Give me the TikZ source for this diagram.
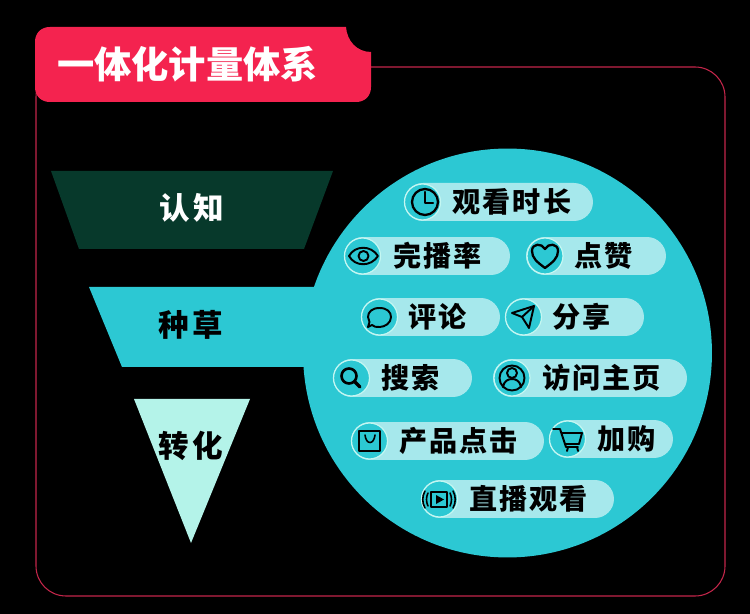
\documentclass[tikz,border=0pt]{standalone}
\usepackage{fontspec}
\usepackage{xcolor}
\newfontfamily\titlefont{Noto Sans CJK SC}
\newfontfamily\stagefont[LetterSpace=10]{Noto Sans CJK SC}
\newfontfamily\pillfont[LetterSpace=7]{Noto Sans CJK SC}
\definecolor{tabred}{HTML}{F4234F}
\definecolor{framered}{HTML}{C4264A}
\definecolor{darkgreen}{HTML}{07392B}
\definecolor{teal}{HTML}{2CC8D3}
\definecolor{mint}{HTML}{B4F3E9}
\definecolor{palepill}{HTML}{A6E8EC}
\definecolor{paleline}{HTML}{C4F7F2}
\tikzset{
  pillbox/.style={fill=palepill, minimum height=0.76cm, rounded corners=0.38cm, inner sep=0pt},
  iconbox/.style={circle, fill=teal, draw=paleline, line width=0.7pt, minimum size=0.72cm, inner sep=0pt},
  pilltext/.style={font=\pillfont\bfseries\fontsize{16}{18}\selectfont, text=black, inner sep=0pt},
  stagetext/.style={font=\stagefont\bfseries\fontsize{17.4}{20}\selectfont, text=black, inner sep=0pt},
  iconline/.style={draw=black, line width=1.1pt, line join=round, line cap=round}
}
\begin{document}
\begin{tikzpicture}[x=0.02cm,y=-0.02cm]
  \useasboundingbox (0,0) rectangle (750,614);
  \fill[black] (0,0) rectangle (750,614);

  \draw[framered, line width=0.6pt, rounded corners=0.6cm] (36,67) rectangle (725,596);
  \fill[tabred] (50,27) -- (346,27) .. controls (347,41) and (357,52) .. (371,52) -- (371,87) .. controls (371,96) and (365,102) .. (356,102) -- (50,102) .. controls (41,102) and (35,96) .. (35,87) -- (35,42) .. controls (35,33) and (41,27) .. (50,27) -- cycle;
  \node[font=\titlefont\bfseries\fontsize{21.2}{24}\selectfont, text=white, inner sep=0pt] (titletext) at (187.5,64) {一体化计量体系};

  % funnel
  \fill[darkgreen] (51,171) -- (333,171) -- (304,249) -- (79,249) -- cycle;
  \fill[teal] (89,287) -- (330,287) -- (330,367) -- (122,367) -- cycle;
  \fill[mint] (134,399) -- (250,399) -- (191,543) -- cycle;
  \node[circle, fill=teal, minimum size=8.18cm, inner sep=0pt] (bigcircle) at (507.5,353) {};
  \node[stagetext, text=white] (stageone) at (192,208) {认知};
  \node[stagetext] (stagetwo) at (191,325) {种草};
  \node[stagetext] (stagethree) at (191,446) {转化};

  % pills
  \node[pillbox, minimum width=3.78cm] (watchpill) at (498.5,202) {};
  \node[pillbox, minimum width=3.32cm] (finishpill) at (427,256) {};
  \node[pillbox, minimum width=2.80cm] (likepill) at (596,256) {};
  \node[pillbox, minimum width=2.78cm] (commentpill) at (430.5,317) {};
  \node[pillbox, minimum width=2.78cm] (sharepill) at (574.5,317) {};
  \node[pillbox, minimum width=2.78cm] (searchpill) at (402.5,378) {};
  \node[pillbox, minimum width=3.88cm] (profilepill) at (590,378) {};
  \node[pillbox, minimum width=3.86cm] (clickpill) at (447.5,441) {};
  \node[pillbox, minimum width=2.48cm] (cartpill) at (611,439) {};
  \node[pillbox, minimum width=3.86cm] (livepill) at (517.5,499) {};

  \node[iconbox] (watchicon) at (422.5,202) {};
  \node[iconbox] (finishicon) at (362.5,256) {};
  \node[iconbox] (likeicon) at (545,256) {};
  \node[iconbox] (commenticon) at (379.5,317) {};
  \node[iconbox] (shareicon) at (523.5,317) {};
  \node[iconbox] (searchicon) at (351.5,378) {};
  \node[iconbox] (profileicon) at (512,378) {};
  \node[iconbox] (clickicon) at (369.5,441) {};
  \node[iconbox] (carticon) at (567.5,439) {};
  \node[iconbox] (liveicon) at (439.5,499) {};

  \node[pilltext] (watchtext) at (512,202) {观看时长};
  \node[pilltext] (finishtext) at (437.5,256) {完播率};
  \node[pilltext] (liketext) at (604,256) {点赞};
  \node[pilltext] (commenttext) at (438,317) {评论};
  \node[pilltext] (sharetext) at (582,317) {分享};
  \node[pilltext] (searchtext) at (410.5,378) {搜索};
  \node[pilltext] (profiletext) at (601.5,378) {访问主页};
  \node[pilltext] (clicktext) at (458.5,441) {产品点击};
  \node[pilltext] (carttext) at (626.5,439) {加购};
  \node[pilltext] (livetext) at (528.5,499) {直播观看};

  % icons
  \draw[iconline, line width=1.3pt] (425,202) circle (13);
  \draw[iconline, line width=1.3pt] (425,192) -- (425,203) -- (433,203);
  \draw[iconline] (349,256) .. controls (355,245) and (371,245) .. (378,256) .. controls (371,267) and (355,267) .. (349,256) -- cycle;
  \draw[iconline] (363.5,256) circle (5);
  \draw[iconline, line width=1.3pt] (545,268) .. controls (537,262) and (532,258) .. (532,251) .. controls (532,243) and (542,243) .. (545,249) .. controls (548,243) and (558,243) .. (558,251) .. controls (558,258) and (553,262) .. (545,268) -- cycle;
  \draw[iconline] (379.5,308) .. controls (387,308) and (391,312) .. (391,317) .. controls (391,323) and (385,327) .. (379.5,327) .. controls (376,327) and (374,327) .. (372,325) -- (368,327) -- (369.5,322) .. controls (368,320) and (368,319) .. (368,317) .. controls (368,312) and (372,308) .. (379.5,308) -- cycle;
  \draw[iconline] (534,306) -- (512,313) -- (522,317) -- (529,328) -- cycle;
  \draw[iconline] (522,317) -- (534,306);
  \draw[iconline, line width=1.5pt] (349,376) circle (7.5);
  \draw[iconline, line width=2pt] (355,382) -- (360,387);
  \draw[iconline] (512,378) circle (12.5);
  \draw[iconline] (512,373) circle (5);
  \draw[iconline] (503,387) .. controls (504,381) and (508,379) .. (512,379) .. controls (516,379) and (520,381) .. (521,387);
  \draw[iconline, line width=0.9pt] (359,431) -- (380,431) -- (380,451) -- (359,451) -- cycle;
  \draw[iconline, line width=0.9pt] (365,435) .. controls (366,445) and (374,445) .. (375,435);
  \draw[iconline] (553,429) -- (560,429) -- (566,447) -- (578,447);
  \draw[iconline] (562,433) -- (582,433) -- (579,444) -- (565,444);
  \draw[iconline] (568,447) -- (567,451);
  \draw[iconline] (577,447) -- (578,451);
  \draw[iconline, line width=0.9pt] (431,492) -- (447,492) -- (447,507) -- (431,507) -- cycle;
  \fill[black] (436,495) -- (444,499.5) -- (436,504) -- cycle;
  \draw[iconline, line width=0.9pt] (428,493) .. controls (426,497) and (426,502) .. (428,506);
  \draw[iconline, line width=0.9pt] (425,491) .. controls (422,496) and (422,503) .. (425,508);
  \draw[iconline, line width=0.9pt] (450,493) .. controls (452,497) and (452,502) .. (450,506);
  \draw[iconline, line width=0.9pt] (453,491) .. controls (456,496) and (456,503) .. (453,508);
\end{tikzpicture}
\end{document}
